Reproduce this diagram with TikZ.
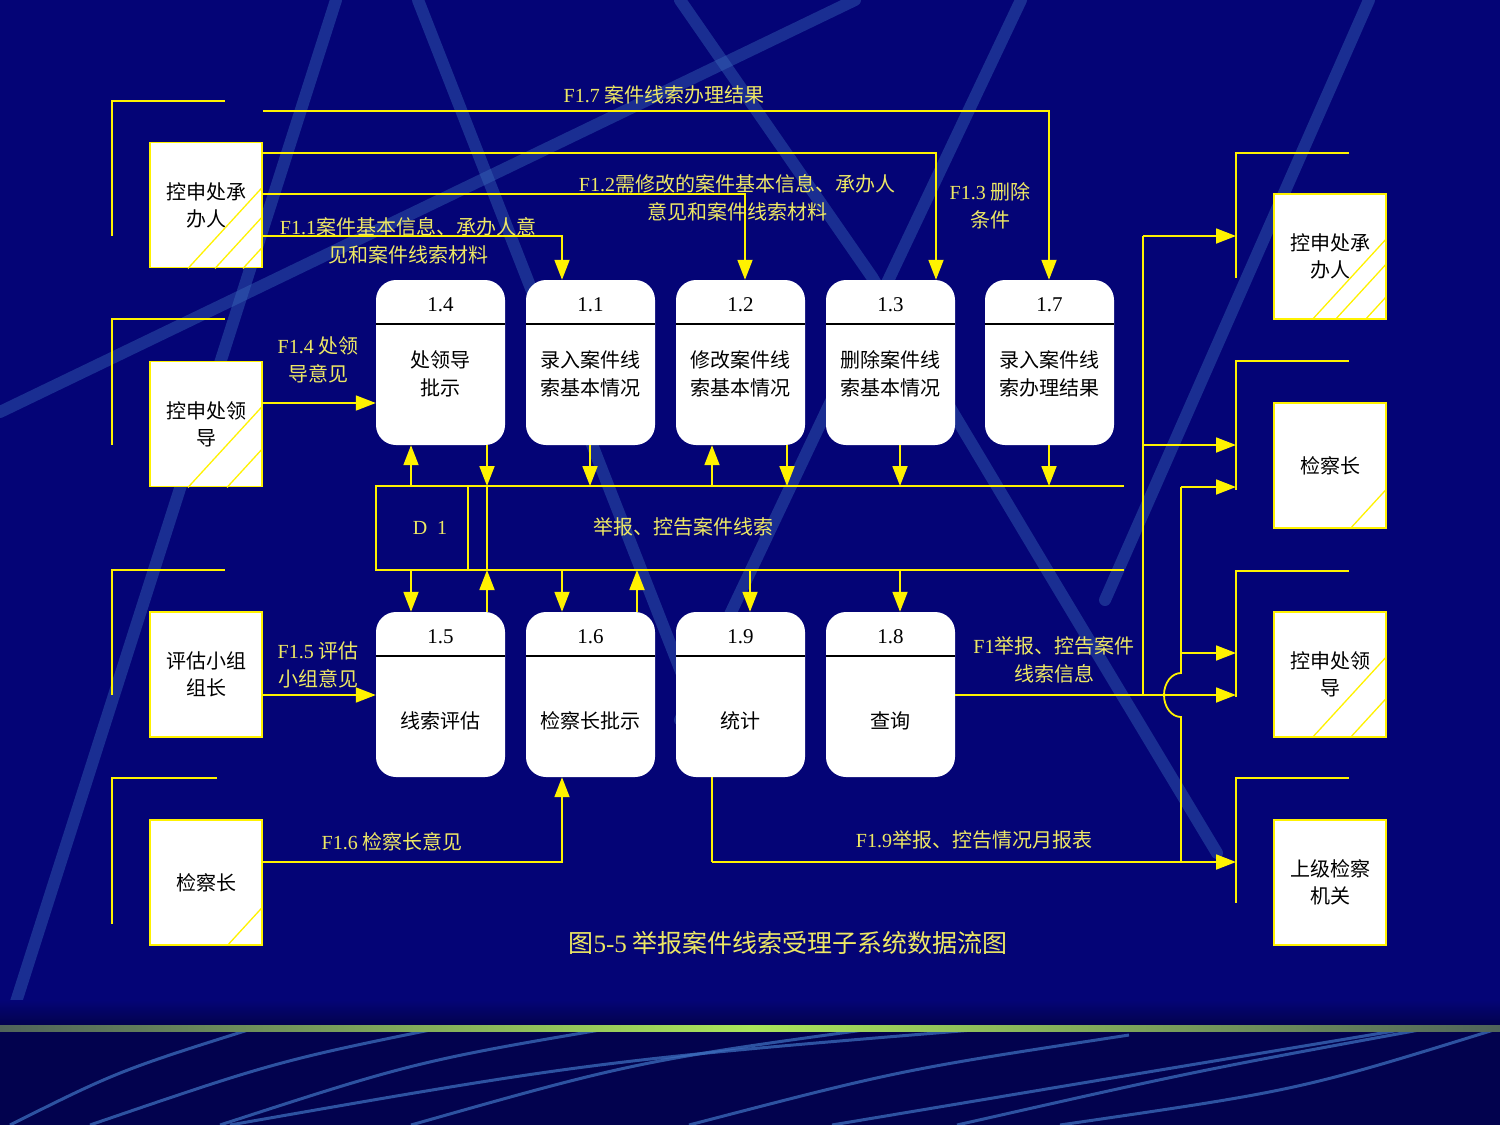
\documentclass[tikz,border=0pt]{standalone}
\usepackage{fontspec}
\newfontfamily\cjk{Noto Sans CJK SC}
\newfontfamily\lat{Liberation Serif}
\usetikzlibrary{arrows.meta,calc}
\definecolor{bgc}{RGB}{4,4,118}
\definecolor{bgbot}{RGB}{2,2,78}
\definecolor{stc}{RGB}{60,110,190}
\definecolor{labc}{RGB}{238,232,100}
\definecolor{gmid}{RGB}{170,230,90}
\definecolor{gend}{RGB}{80,100,90}
\newcommand{\hatchbox}[2]{%
  \begin{scope}
    \clip (#1.south west) rectangle (#1.north east);
    \foreach \hx in {#2} {\draw[hatch] (\hx,0 |- #1.south) -- ++(110,-120);}
  \end{scope}}
\newcommand{\mkproc}[6]{% name, cx, top, number, text, text y
  \node[proc] (#1) at (#2,#3+82.5) {};
  \draw[divl] (#2-64.5,#3+44) -- (#2+64.5,#3+44);
  \node[num] (#1n) at (#2,#3+25) {#4};
  \node[ptext] (#1t) at (#2,#6) {#5};}
\begin{document}
\begin{tikzpicture}[x=1pt,y=-1pt,
  ent/.style={draw=yellow, line width=1.8pt, fill=white, minimum width=112pt, minimum height=125pt, inner sep=0pt, align=center, text=black, font=\cjk\fontsize{20}{27}\selectfont},
  proc/.style={fill=white, rounded corners=20pt, minimum width=129pt, minimum height=165pt, inner sep=0pt},
  num/.style={text=black, font=\lat\fontsize{21}{24}\selectfont, inner sep=0pt},
  ptext/.style={text=black, font=\cjk\fontsize{20}{28}\selectfont, align=center, inner sep=0pt},
  divl/.style={draw=black, line width=1.2pt},
  wire/.style={draw=yellow, line width=1.8pt},
  flow/.style={wire, -{Triangle[length=20pt,width=15pt]}},
  brk/.style={draw=yellow, line width=1.8pt},
  lab/.style={text=labc, font=\cjk\fontsize{20}{28}\selectfont, align=center, inner sep=0pt},
  hatch/.style={draw=yellow, line width=1.3pt},
  streak/.style={draw=stc, line width=12pt, opacity=0.4, line cap=round},
  thin/.style={draw=stc, line width=3pt, opacity=0.75},
]
\useasboundingbox (0,0) rectangle (1500,1125);
% background
\fill[bgc] (0,0) rectangle (1500,1125);
\begin{scope}
  \clip (0,0) rectangle (1500,1022);
  \draw[streak] (336,0) -- (8,1027);
  \draw[streak] (0,412) -- (855,0);
  \draw[streak] (418,0) -- (700,720);
  \draw[streak] (680,0) -- (872,277) -- (1053,580) -- (1217,853);
  \draw[streak] (1021,0) -- (680,720);
  \draw[streak] (1369,0) -- (1105,600);
\end{scope}
\shade[top color=bgc, bottom color=bgbot] (0,1000) rectangle (1500,1025);
\fill[bgbot] (0,1025) rectangle (1500,1125);
\begin{scope}
  \clip (0,1030) rectangle (1500,1125);
  \draw[thin] (10,1125) .. controls (120,1070) .. (280,1020);
  \draw[thin] (90,1125) .. controls (280,1060) .. (480,1020);
  \draw[thin] (220,1125) .. controls (420,1060) .. (660,1020);
  \draw[thin] (230,1125) .. controls (600,1060) .. (1072,1022);
  \draw[thin] (411,1125) .. controls (640,1060) .. (938,1020);
  \draw[thin] (689,1125) .. controls (900,1070) .. (1129,1035);
  \draw[thin] (832,1125) .. controls (1100,1080) .. (1400,1030);
  \draw[thin] (957,1125) .. controls (1200,1070) .. (1474,1020);
  \draw[thin] (1060,1125) .. controls (1300,1090) .. (1500,1028);
\end{scope}
\shade[left color=gend, right color=gend, middle color=gmid] (0,1025) rectangle (1500,1031);

% brackets of external entities
\draw[brk] (225,101) -- (112,101) -- (112,236);
\draw[brk] (225,319) -- (112,319) -- (112,445);
\draw[brk] (225,570) -- (112,570) -- (112,695);
\draw[brk] (217,778) -- (112,778) -- (112,924);
\draw[brk] (1349,153) -- (1236,153) -- (1236,278);
\draw[brk] (1349,361) -- (1236,361) -- (1236,490);
\draw[brk] (1349,571) -- (1236,571) -- (1236,697);
\draw[brk] (1349,778) -- (1236,778) -- (1236,903);

% external entities
\node[ent] (e1) at (206,205) {控申处承\\办人};
\node[ent] (e2) at (206,424) {控申处领\\导};
\node[ent] (e3) at (206,674.5) {评估小组\\组长};
\node[ent] (e4) at (206,882.5) {检察长};
\node[ent] (r1) at (1330,256.5) {控申处承\\办人};
\node[ent] (r2) at (1330,465.5) {检察长};
\node[ent] (r3) at (1330,674.5) {控申处领\\导};
\node[ent] (r4) at (1330,882.5) {上级检察\\机关};
\hatchbox{e1}{188,215,243}
\hatchbox{e2}{188,227}
\hatchbox{e4}{227}
\hatchbox{r1}{1312,1335,1365}
\hatchbox{r2}{1350}
\hatchbox{r3}{1312,1350}

% processes
\mkproc{p14}{440.5}{280}{1.4}{处领导\\批示}{374}
\mkproc{p11}{590.5}{280}{1.1}{录入案件线\\索基本情况}{374}
\mkproc{p12}{740.5}{280}{1.2}{修改案件线\\索基本情况}{374}
\mkproc{p13}{890.5}{280}{1.3}{删除案件线\\索基本情况}{374}
\mkproc{p17}{1049.5}{280}{1.7}{录入案件线\\索办理结果}{374}
\mkproc{p15}{440.5}{612}{1.5}{线索评估}{721}
\mkproc{p16}{590.5}{612}{1.6}{检察长批示}{721}
\mkproc{p19}{740.5}{612}{1.9}{统计}{721}
\mkproc{p18}{890.5}{612}{1.8}{查询}{721}

% data store
\coordinate (d1nw) at (376,486);
\coordinate (d1ne) at (1124,486);
\coordinate (d1sw) at (376,570);
\coordinate (d1se) at (1124,570);
\draw[wire] (d1ne) -- (d1nw) -- (d1sw) -- (d1se);
\draw[wire] (468,0 |- d1nw) -- (468,0 |- d1sw);
\node[lab] (d1id) at (430,528) {\lat D\hspace{10pt}1};
\node[lab] (d1name) at (683,527) {举报、控告案件线索};

% store flows
\draw[flow] (411,0 |- d1nw) -- (411,0 |- p14.south);
\draw[flow] (487,0 |- p14.south) -- (487,0 |- d1nw);
\draw[wire] (487,0 |- d1nw) -- (487,0 |- d1sw);
\draw[flow] (590,0 |- p11.south) -- (590,0 |- d1nw);
\draw[flow] (712,0 |- d1nw) -- (712,0 |- p12.south);
\draw[flow] (787,0 |- p12.south) -- (787,0 |- d1nw);
\draw[flow] (900,0 |- p13.south) -- (900,0 |- d1nw);
\draw[flow] (1049,0 |- p17.south) -- (1049,0 |- d1nw);
\draw[flow] (411,0 |- d1sw) -- (411,0 |- p15.north);
\draw[flow] (487,0 |- p15.north) -- (487,0 |- d1sw);
\draw[flow] (562,0 |- d1sw) -- (562,0 |- p16.north);
\draw[flow] (637,0 |- p16.north) -- (637,0 |- d1sw);
\draw[flow] (750,0 |- d1sw) -- (750,0 |- p19.north);
\draw[flow] (900,0 |- d1sw) -- (900,0 |- p18.north);

% flows from left entities
\draw[flow] (e1.east |- 0,111) -| (1049,0 |- p17.north);
\draw[flow] (e1.east |- 0,153) -| (936,0 |- p13.north);
\draw[flow] (e1.east |- 0,194) -| (745,0 |- p12.north);
\draw[flow] (e1.east |- 0,236) -| (562,0 |- p11.north);
\draw[flow] (e2.east |- 0,403) -- (p14.west |- 0,403);
\draw[flow] (e3.east |- 0,695) -- (p15.west |- 0,695);
\draw[flow] (e4.east |- 0,862) -| (562,0 |- p16.south);

% flows to right entities
\coordinate (r1a) at (1236,236);
\coordinate (r2a) at (1236,445);
\coordinate (r2b) at (1236,487);
\coordinate (r3a) at (1236,653);
\coordinate (r3b) at (1236,695);
\coordinate (r4a) at (1236,862);
\draw[flow] (p18.east |- 0,695) -- (r3b);
\draw[wire] (1143,695) -- (1143,236);
\draw[flow] (1143,236) -- (r1a);
\draw[flow] (1143,445) -- (r2a);
\draw[wire] (712,0 |- p19.south) -- (712,862);
\draw[flow] (712,862) -- (r4a);
\draw[wire] (1181,862) -- (1181,717) arc[start angle=90, end angle=270, x radius=17, y radius=22] -- (1181,487);
\draw[flow] (1181,487) -- (r2b);
\draw[flow] (1181,653) -- (r3a);

% labels
\node[lab] (l17) at (664,95) {{\lat F1.7} 案件线索办理结果};
\node[lab] (l12) at (737,198) {{\lat F1.2}需修改的案件基本信息、承办人\\意见和案件线索材料};
\node[lab] (l13) at (990,206) {{\lat F1.3} 删除\\条件};
\node[lab] (l11) at (408,241) {{\lat F1.1}案件基本信息、承办人意\\见和案件线索材料};
\node[lab] (l14) at (318,360) {{\lat F1.4} 处领\\导意见};
\node[lab] (l15) at (318,665) {{\lat F1.5} 评估\\小组意见};
\node[lab] (l16) at (392,842) {{\lat F1.6} 检察长意见};
\node[lab] (l1) at (1054,660) {{\lat F1}举报、控告案件\\线索信息};
\node[lab] (l19) at (974,840) {{\lat F1.9}举报、控告情况月报表};
\node[lab, font=\cjk\fontsize{25}{30}\selectfont] (cap) at (788,943) {图{\lat 5-5} 举报案件线索受理子系统数据流图};
\end{tikzpicture}
\end{document}
